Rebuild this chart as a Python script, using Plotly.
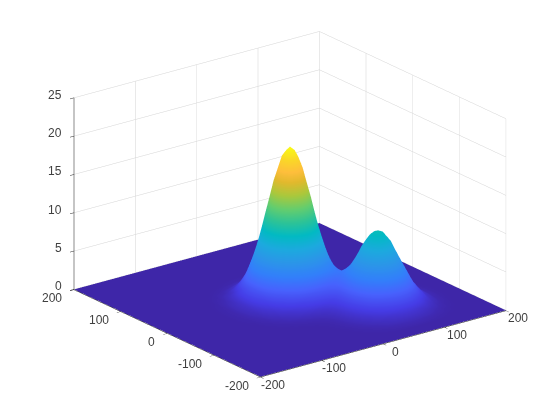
import plotly.graph_objects as go

x_values = [-200, -110, -90, -75, -60, -45, -30, -22.5, -15, -7.5, 0, 7.5, 15, 22.5, 30, 45, 60, 67.5, 75, 82.5, 90, 105, 120, 135, 150, 165, 185, 200]
y_values = [-200, -180, -165, -150, -135, -120, -105, -97.5, -90, -82.5, -75, -60, -45, -30, -22.5, -15, -7.5, 0, 7.5, 15, 22.5, 30, 45, 60, 75, 90, 110, 200]
inner_rows = [
[0,0,0,0,0,0,0,.01,.02,.03,.06,.09,.14,.27,.39,.43,.44,.43,.39,.27,.14,.06,.02,0],
[0,0,0,0,0,.01,.02,.03,.06,.11,.18,.29,.44,.82,1.19,1.31,1.35,1.31,1.19,.82,.44,.18,.06,.02],
[0,0,0,0,.01,.02,.04,.07,.14,.26,.44,.70,1.05,1.97,2.87,3.15,3.25,3.15,2.87,1.97,1.05,.44,.14,.04],
[0,0,0,0,.01,.04,.08,.15,.28,.49,.83,1.31,1.97,3.68,5.35,5.88,6.07,5.88,5.35,3.68,1.97,.82,.27,.07],
[0,0,.01,.01,.05,.08,.14,.24,.43,.74,1.23,1.94,2.90,5.36,7.80,8.55,8.83,8.55,7.79,5.35,2.87,1.19,.39,.10],
[0,0,.01,.03,.08,.13,.20,.32,.53,.87,1.40,2.18,3.21,5.91,8.56,9.40,9.69,9.39,8.55,5.88,3.15,1.31,.43,.11],
[0,.01,.03,.07,.15,.22,.31,.45,.66,1.01,1.55,2.33,3.38,6.14,8.86,9.71,10.01,9.70,8.83,6.07,3.25,1.35,.44,.11],
[.01,.02,.06,.15,.30,.39,.51,.66,.89,1.21,1.71,2.44,3.43,6.03,8.61,9.43,9.71,9.40,8.56,5.88,3.15,1.31,.43,.11],
[.01,.04,.12,.28,.55,.71,.87,1.05,1.27,1.55,1.96,2.57,3.40,5.63,7.91,8.62,8.87,8.57,7.80,5.35,2.87,1.19,.39,.10],
[.03,.12,.37,.88,1.65,2.07,2.46,2.76,2.98,3.10,3.21,3.35,3.61,4.56,5.72,6.10,6.19,5.94,5.38,3.69,1.97,.82,.27,.07],
[.07,.29,.88,2.11,3.95,4.92,5.77,6.36,6.63,6.55,6.17,5.60,4.99,4.08,3.75,3.67,3.54,3.30,2.94,1.98,1.05,.44,.14,.04],
[.13,.53,1.64,3.94,7.36,9.17,10.72,11.78,12.19,11.86,10.88,9.45,7.80,4.76,2.83,2.27,1.88,1.59,1.32,.84,.45,.18,.06,.02],
[.17,.66,2.05,4.90,9.16,11.40,13.33,14.65,15.13,14.69,13.43,11.57,9.42,5.38,2.75,1.97,1.46,1.12,.87,.51,.27,.11,.03,.01],
[.19,.78,2.39,5.73,10.70,13.33,15.58,17.11,17.67,17.13,15.64,13.42,10.84,6.00,2.78,1.83,1.22,.84,.58,.31,.15,.06,.02,0],
[.21,.85,2.63,6.29,11.76,14.63,17.11,18.79,19.39,18.80,17.14,14.68,11.83,6.43,2.83,1.76,1.08,.67,.41,.18,.08,.03,.01,0],
[.22,.88,2.71,6.49,12.13,15.10,17.65,19.38,20,19.39,17.67,15.12,12.17,6.56,2.81,1.70,.99,.57,.32,.11,.05,.02,0,0],
[.21,.85,2.63,6.29,11.76,14.63,17.11,18.78,19.38,18.78,17.12,14.64,11.78,6.32,2.68,1.59,.90,.50,.26,.07,.03,.01,0,0],
[.19,.78,2.39,5.73,10.70,13.33,15.58,17.10,17.65,17.10,15.58,13.33,10.71,5.74,2.41,1.42,.80,.43,.21,.05,.02,0,0,0],
[.17,.66,2.05,4.90,9.16,11.40,13.32,14.63,15.10,14.63,13.32,11.40,9.16,4.90,2.06,1.21,.67,.36,.18,.04,.01,0,0,0],
[.13,.53,1.64,3.94,7.36,9.16,10.70,11.75,12.13,11.75,10.70,9.16,7.36,3.94,1.64,.96,.53,.28,.13,.02,.01,0,0,0],
[.07,.29,.88,2.11,3.94,4.90,5.73,6.29,6.49,6.29,5.73,4.90,3.94,2.11,.88,.52,.29,.15,.07,.01,0,0,0,0],
[.03,.12,.37,.88,1.64,2.04,2.39,2.62,2.71,2.62,2.39,2.04,1.64,.88,.37,.22,.12,.06,.03,.01,0,0,0,0],
[.01,.04,.12,.28,.53,.66,.77,.85,.88,.85,.77,.66,.53,.28,.12,.07,.04,.02,.01,0,0,0,0,0],
[0,.01,.03,.07,.13,.17,.20,.22,.22,.22,.20,.17,.13,.07,.03,.02,.01,.01,0,0,0,0,0,0],
]
edge_row = [0] * 28
z_values = [edge_row, edge_row] + [[0, 0] + row + [0, 0] for row in inner_rows] + [edge_row, edge_row]
tick_xy = [-200, -100, 0, 100, 200]
tick_xy_text = ["-200", "-100", "0", "100", "200"]
tick_z = [0, 5, 10, 15, 20, 25]
tick_z_text = ["0", "5", "10", "15", "20", "25"]

parula = [
 [0.00, "rgb(62,38,168)"], [0.08, "rgb(69,60,230)"], [0.16, "rgb(71,98,253)"],
 [0.24, "rgb(50,128,250)"], [0.32, "rgb(43,150,232)"], [0.40, "rgb(28,170,222)"],
 [0.48, "rgb(2,186,195)"], [0.56, "rgb(46,195,150)"], [0.64, "rgb(100,205,110)"],
 [0.72, "rgb(170,200,60)"], [0.80, "rgb(225,185,45)"], [0.86, "rgb(254,190,60)"],
 [0.93, "rgb(250,215,40)"], [1.00, "rgb(249,251,21)"],
]

font = dict(family="Liberation Sans", size=12, color="#404040")
axis_style = dict(
    showbackground=False, showspikes=False, title=dict(text=""),
    gridcolor="#d4d4d4", gridwidth=1, zeroline=False,
    showline=True, linecolor="#1a1a1a", linewidth=1,
    ticks="outside", ticklen=5, tickcolor="#262626", tickwidth=1, tickangle=0,
    showticklabels=False, tickfont=font,
)

z_labels = [dict(x=-200, y=200, z=v, text=t, xanchor="right", yanchor="middle", xshift=-10, yshift=3)
            for v, t in zip(tick_z, tick_z_text)]
y_labels = [dict(x=-200, y=v, z=0, text=t, xanchor="right", yanchor="middle", xshift=-10, yshift=-9)
            for v, t in zip(tick_xy, tick_xy_text)]
x_labels = [dict(x=v, y=-200, z=0, text=t, xanchor="center", yanchor="middle", xshift=12, yshift=-8)
            for v, t in zip(tick_xy, tick_xy_text)]

fig = go.Figure(go.Surface(
    x=x_values, y=y_values, z=z_values,
    colorscale=parula, cmin=0, cmax=20, showscale=False,
    lighting=dict(ambient=1, diffuse=0, specular=0, fresnel=0, roughness=1),
    contours=dict(x=dict(highlight=False), y=dict(highlight=False), z=dict(highlight=False)),
    hoverinfo="skip",
))
fig.update_layout(
    width=560, height=420, margin=dict(l=0, r=0, t=0, b=0),
    paper_bgcolor="white", showlegend=False,
    scene=dict(
        domain=dict(x=[0, 1], y=[0, 1]),
        aspectmode="manual", aspectratio=dict(x=1.468, y=1.468, z=0.978),
        camera=dict(
            projection=dict(type="orthographic"),
            eye=dict(x=-1.152, y=-1.500, z=0.65),
            center=dict(x=-0.0075, y=0.0057, z=-0.07),
            up=dict(x=0, y=0, z=1),
        ),
        xaxis=dict(axis_style, range=[-200, 200], tickvals=tick_xy),
        yaxis=dict(axis_style, range=[-200, 200], tickvals=tick_xy),
        zaxis=dict(axis_style, range=[-0.05, 25], tickvals=tick_z),
        annotations=[dict(a, showarrow=False, font=font) for a in z_labels + y_labels + x_labels],
    ),
)
fig.write_html("out.html")
